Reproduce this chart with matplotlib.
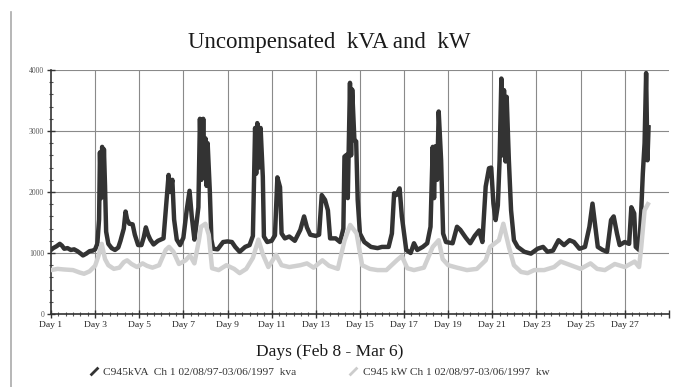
import matplotlib
matplotlib.use('Agg')
import matplotlib.pyplot as plt
from matplotlib.lines import Line2D
from matplotlib.ticker import MultipleLocator

# kVA series (day, value)
kva_day = [1.0, 1.1, 1.25, 1.4, 1.5, 1.6, 1.75, 1.9, 2.05, 2.2, 2.35, 2.45, 2.6, 2.75, 2.9, 3.0,
           3.1, 3.18, 3.22, 3.27, 3.32, 3.36, 3.4, 3.45, 3.5, 3.6, 3.75, 3.9, 4.05, 4.15,
           4.3, 4.38, 4.45, 4.55, 4.7, 4.8, 4.95, 5.1, 5.2, 5.3, 5.4, 5.5, 5.65, 5.85, 6.1,
           6.2, 6.27, 6.33, 6.4, 6.5, 6.58, 6.7, 6.85, 7.0,
           7.15, 7.28, 7.38, 7.5, 7.6, 7.68, 7.75, 7.82, 7.9, 7.96, 8.0, 8.05, 8.1, 8.2, 8.27,
           8.35, 8.55, 8.8,
           9.0, 9.2, 9.35, 9.55, 9.8, 10.0, 10.15,
           10.25, 10.3, 10.35, 10.42, 10.5, 10.6, 10.65, 10.8, 11.0, 11.15, 11.26, 11.38, 11.45,
           11.6, 11.8, 12.05, 12.3, 12.47, 12.6, 12.75, 13.0, 13.15,
           13.27, 13.42, 13.55, 13.65, 13.9, 14.1, 14.25,
           14.3, 14.4, 14.45, 14.55, 14.6, 14.65, 14.75, 14.83, 14.9, 15.0, 15.2, 15.5, 15.8, 16.0,
           16.3, 16.45,
           16.55, 16.65, 16.8, 16.9, 17.0, 17.1, 17.3, 17.45, 17.6, 17.85, 18.05, 18.2,
           18.3, 18.36, 18.42, 18.5, 18.57, 18.68, 18.77, 18.9, 19.2, 19.4, 19.55, 19.8, 20.0,
           20.2, 20.4, 20.55,
           20.7, 20.85, 20.95, 21.05, 21.15, 21.25, 21.33, 21.41, 21.47, 21.53, 21.6, 21.65, 21.75,
           21.85, 21.98,
           22.15, 22.45, 22.75, 23.05, 23.3, 23.5, 23.75, 24.0, 24.25, 24.5, 24.7, 24.95, 25.2,
           25.4, 25.54, 25.65, 25.78, 26.0, 26.2, 26.38, 26.5, 26.65, 26.77, 27.0, 27.2, 27.3,
           27.43, 27.5, 27.65, 27.75, 27.82, 27.9, 27.97, 28.03, 28.08]
kva_val = [1050, 1080, 1110, 1150, 1120, 1070, 1080, 1050, 1060, 1030, 990, 960, 990, 1030, 1040, 1060,
           1150, 1550, 2650, 1900, 2740, 2000, 2700, 2100, 1350, 1150, 1080, 1050, 1090, 1200,
           1400, 1680, 1550, 1480, 1470, 1300, 1130, 1130, 1250, 1420, 1300, 1220, 1140, 1200, 1240,
           1700, 2000, 2280, 2000, 2200, 1550, 1220, 1130, 1250,
           1700, 2020, 1600, 1220, 1500, 1750, 3200, 2200, 3200, 2400, 2880, 2100, 2800, 2000, 1220,
           1070, 1060, 1180,
           1190, 1180, 1100, 1020, 1100, 1130, 1280,
           3050, 2300, 3130, 2400, 3050, 2250, 1270, 1180, 1200, 1290, 2240, 2080, 1320,
           1240, 1270, 1200, 1380, 1600, 1420, 1300, 1280, 1300,
           1950, 1870, 1700, 1240, 1240, 1180, 1400,
           2580, 2610, 1900, 3790, 2600, 3680, 2850, 2830, 1870, 1320, 1180, 1100, 1080, 1100,
           1100, 1320,
           1980, 1950, 2060, 1600, 1320, 1050, 1000, 1160, 1050, 1100, 1160, 1430,
           2740, 1900, 2750, 2200, 3320, 2520, 1320, 1180, 1160, 1430, 1380, 1250, 1160,
           1280, 1370, 1180,
           2090, 2390, 2400, 1810, 1540, 1780, 2520, 3860, 2600, 3670, 2500, 3560, 2520,
           1700, 1210,
           1100, 1020, 990, 1070, 1100, 1020, 1040, 1210, 1130, 1210, 1180, 1070, 1100,
           1430, 1810, 1480, 1100, 1050, 1020, 1540, 1600, 1320, 1130, 1180, 1150, 1750,
           1650, 1100, 1050, 1700, 2300, 2800, 3950, 2520, 3060]

# kW series
kw_day = [1.0, 1.3, 1.6, 2.0, 2.3, 2.5, 2.75, 3.0, 3.15, 3.3, 3.45, 3.6, 3.85, 4.1, 4.3, 4.45,
          4.65, 4.9, 5.15, 5.35, 5.6, 5.9, 6.2, 6.35, 6.55, 6.8, 7.1, 7.3, 7.5, 7.7, 7.8, 8.0,
          8.15, 8.3, 8.6, 8.95, 9.3, 9.55, 9.85, 10.15, 10.4, 10.6, 10.85, 11.2, 11.45, 11.8,
          12.3, 12.6, 12.9, 13.3, 13.6, 14.0, 14.3, 14.56, 14.85, 15.1, 15.45, 15.8, 16.2, 16.7,
          16.9, 17.15, 17.45, 17.9, 18.3, 18.57, 18.75, 19.0, 19.4, 19.85, 20.3, 20.7, 20.9, 21.3,
          21.5, 21.75, 21.98, 22.3, 22.6, 22.9, 23.35, 23.8, 24.1, 24.55, 25.0, 25.45, 25.75,
          26.1, 26.55, 27.0, 27.45, 27.65, 27.75, 27.9, 28.05]
kw_val = [720, 740, 730, 720, 680, 660, 700, 790, 950, 1150, 900, 800, 740, 760, 850, 880,
          820, 770, 830, 790, 760, 800, 1050, 1100, 1020, 820, 880, 960, 830, 1200, 1430, 1480,
          1300, 750, 720, 800, 740, 670, 740, 920, 1220, 980, 770, 970, 800, 770,
          800, 830, 760, 880, 790, 740, 1200, 1460, 1320, 800, 740, 720, 720, 890,
          950, 750, 720, 760, 1100, 1210, 900, 800, 760, 720, 740, 880, 1100, 1210,
          1480, 1100, 800, 690, 670, 720, 720, 770, 860, 800, 740, 830, 740,
          720, 820, 770, 860, 770, 1100, 1700, 1800]

day_ticks = list(range(1, 30, 2))
day_labels = ['Day %d' % d for d in range(1, 28, 2)] + ['']
kva_label = 'C945kVA  Ch 1 02/08/97-03/06/1997  kva'
kw_label = 'C945 kW Ch 1 02/08/97-03/06/1997  kw'

serif = ['Liberation Serif', 'DejaVu Serif']

fig = plt.figure(figsize=(6.86, 3.87), dpi=100)
ax = fig.add_axes([0.0743, 0.1886, 0.9007, 0.6305])

ax.plot(kva_day, kva_val, color='#333333', lw=3.2, zorder=3)
ax.plot(kw_day, kw_val, color='#d0d0d0', lw=3.2, zorder=4)

ax.set_xlim(1, 29)
ax.set_ylim(0, 4000)
ax.set_xticks(day_ticks)
ax.set_xticklabels(day_labels, family=serif, fontsize=6.8, color='#222222')
ax.xaxis.set_minor_locator(MultipleLocator(1 / 3))
ax.yaxis.set_major_locator(MultipleLocator(1000))
ax.yaxis.set_minor_locator(MultipleLocator(200))
for lab in ax.get_yticklabels():
    lab.set_family(serif)
    lab.set_fontsize(5.5)
    lab.set_color('#555555')

ax.grid(True, which='major', color='#8a8a8a', lw=0.8)
# no grid at the top edge / right end
ax.yaxis.get_gridlines()[-1].set_visible(False)
ax.yaxis.get_gridlines()[0].set_visible(False)
ax.xaxis.get_gridlines()[-1].set_visible(False)
ax.xaxis.get_gridlines()[0].set_visible(False)

ax.tick_params(axis='both', which='major', direction='inout', length=6, width=1, color='#333333', pad=2)
ax.tick_params(axis='both', which='minor', direction='inout', length=3, width=0.8, color='#555555')
for s in ['top', 'right']:
    ax.spines[s].set_visible(False)
for s in ['left', 'bottom']:
    ax.spines[s].set_color('#333333')
    ax.spines[s].set_linewidth(1.2)

fig.text(0.48, 0.89, 'Uncompensated  kVA and  kW', family=serif, fontsize=16.5,
         ha='center', va='center', color='#1a1a1a')
fig.text(0.48, 0.09, 'Days (Feb 8 - Mar 6)', family=serif, fontsize=12.5,
         ha='center', va='center', color='#1a1a1a')

handles = [Line2D([], [], color='#333333', marker=(2, 0, -45), markersize=8, mew=2, ls='none'),
           Line2D([], [], color='#cccccc', marker=(2, 0, -45), markersize=8, mew=2, ls='none')]
fig.legend(handles, [kva_label, kw_label], loc='center', bbox_to_anchor=(0.465, 0.038), ncol=2,
           frameon=False, prop={'family': serif, 'size': 8.2}, handletextpad=0.3, columnspacing=4.5,
           handlelength=1.0, labelcolor='#333333')

# scan border on the left
fig.add_artist(Line2D([0.016, 0.016], [0.0, 0.97], color='#aaaaaa', lw=1.2))

fig.savefig('out.png', dpi=100)
